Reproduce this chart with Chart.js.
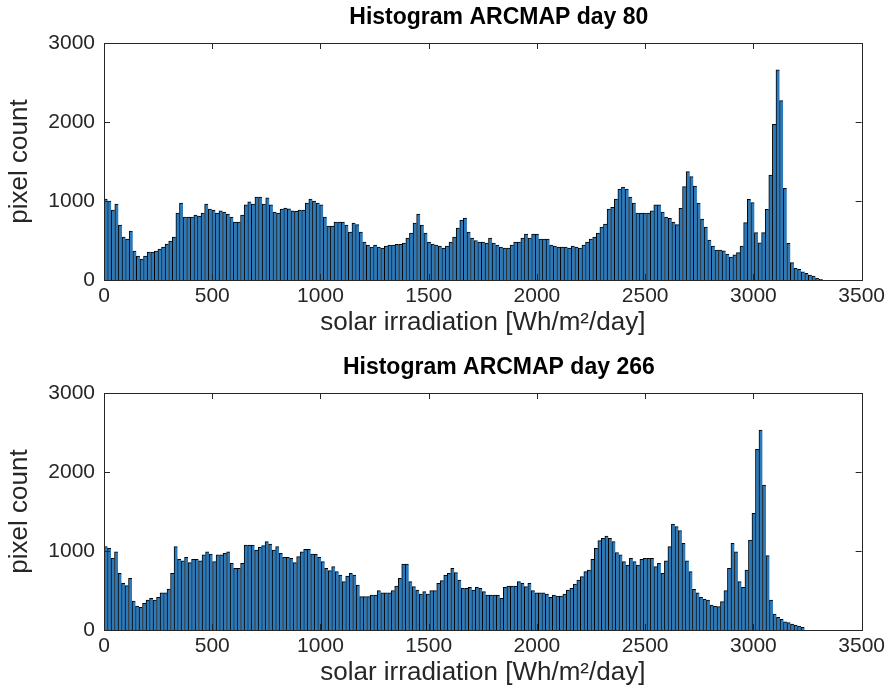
<!DOCTYPE html>
<html>
<head>
<meta charset="utf-8">
<script src="https://cdn.jsdelivr.net/npm/chart.js@4.4.1/dist/chart.umd.min.js"></script>
<style>
  body { margin: 0; background: #fff; }
  canvas { display: block; }
</style>
</head>
<body>
<canvas id="day80" width="889" height="350"></canvas>
<canvas id="day266" width="889" height="349"></canvas>
<script>
// histogram bins: 200 equal bins starting at 0 irradiation
const binCount = 200;
const day80BinWidth = 16.6;
const day266BinWidth = 16.18;

// pixel counts per bin, day 80
const day80Counts = [
  1025, 1000, 886, 962, 696, 544, 519, 620, 367, 304,
  266, 304, 354, 354, 367, 392, 418, 456, 494, 544,
  848, 975, 798, 798, 798, 823, 810, 848, 962, 899,
  886, 848, 874, 861, 835, 798, 734, 734, 823, 950,
  988, 962, 1051, 1051, 962, 1040, 950, 861, 848, 899,
  911, 900, 874, 870, 886, 886, 975, 1025, 1000, 975,
  950, 798, 684, 684, 734, 734, 734, 696, 608, 722,
  700, 608, 481, 443, 418, 443, 418, 405, 430, 443,
  443, 450, 450, 468, 532, 595, 722, 835, 696, 595,
  481, 455, 443, 430, 405, 430, 481, 544, 658, 760,
  785, 608, 532, 500, 481, 481, 468, 532, 468, 443,
  418, 405, 405, 443, 481, 481, 532, 582, 532, 582,
  582, 519, 519, 519, 443, 430, 418, 418, 418, 405,
  430, 418, 405, 443, 481, 519, 544, 595, 671, 709,
  899, 920, 1025, 1152, 1177, 1152, 1051, 975, 848, 848,
  848, 848, 874, 950, 950, 861, 798, 780, 734, 700,
  907, 1181, 1371, 1308, 1190, 975, 772, 671, 506, 430,
  380, 380, 370, 329, 291, 320, 346, 430, 726, 1021,
  979, 599, 472, 599, 894, 1329, 1970, 2659, 2270, 1161,
  465, 219, 148, 135, 105, 84, 63, 51, 21, 10
];

// pixel counts per bin, day 266
const day266Counts = [
  1055, 1034, 907, 991, 717, 591, 561, 654, 367, 304,
  287, 338, 380, 401, 380, 414, 472, 472, 519, 717,
  1055, 895, 877, 920, 852, 895, 895, 877, 950, 991,
  962, 865, 950, 950, 971, 991, 844, 781, 781, 844,
  1076, 1076, 1076, 1013, 1047, 1068, 1118, 1089, 1013, 1055,
  971, 920, 920, 907, 852, 928, 991, 1021, 1021, 962,
  962, 920, 865, 781, 751, 802, 738, 696, 612, 684,
  717, 696, 570, 422, 422, 422, 443, 443, 498, 472,
  472, 472, 498, 557, 654, 836, 836, 612, 549, 506,
  456, 485, 456, 498, 498, 591, 624, 696, 717, 781,
  726, 633, 528, 528, 540, 506, 540, 528, 485, 443,
  443, 443, 443, 401, 540, 557, 557, 557, 612, 591,
  549, 591, 498, 472, 472, 472, 456, 414, 443, 430,
  430, 456, 506, 528, 582, 633, 675, 738, 760, 895,
  1034, 1131, 1160, 1190, 1160, 1118, 979, 950, 865, 823,
  907, 865, 823, 895, 907, 907, 907, 802, 844, 717,
  877, 1055, 1342, 1308, 1260, 1097, 877, 738, 515, 472,
  414, 388, 380, 316, 300, 295, 359, 498, 781, 1097,
  991, 612, 540, 760, 1139, 1477, 2287, 2532, 1836, 941,
  380, 203, 160, 135, 105, 93, 76, 63, 51, 34
];

const xTicks = [0, 500, 1000, 1500, 2000, 2500, 3000, 3500];
const yTicks = [0, 1000, 2000, 3000];

const fontFamily = "'Liberation Sans', Arial, Helvetica, sans-serif";
const textColor = '#262626';

// closed box around the plot area with inward tick marks (matlab style),
// plus the axes title above the plot area
const axisBox = {
  id: 'axisBox',
  afterDatasetsDraw(chart, args, opts) {
    const { ctx, chartArea: a, scales: { x, y } } = chart;
    const tickLen = 6;
    ctx.save();
    ctx.strokeStyle = textColor;
    ctx.lineWidth = 1;
    ctx.beginPath();
    x.ticks.forEach(t => {
      const px = Math.round(x.getPixelForValue(t.value)) + 0.5;
      ctx.moveTo(px, a.bottom); ctx.lineTo(px, a.bottom - tickLen);
      ctx.moveTo(px, a.top); ctx.lineTo(px, a.top + tickLen);
    });
    y.ticks.forEach(t => {
      const py = Math.round(y.getPixelForValue(t.value)) + 0.5;
      ctx.moveTo(a.left, py); ctx.lineTo(a.left + tickLen, py);
      ctx.moveTo(a.right, py); ctx.lineTo(a.right - tickLen, py);
    });
    ctx.stroke();
    ctx.strokeRect(Math.round(a.left) + 0.5, Math.round(a.top) + 0.5,
      Math.round(a.width), Math.round(a.height));

    ctx.fillStyle = '#000';
    ctx.font = 'bold 23px ' + fontFamily;
    ctx.textAlign = 'center';
    ctx.textBaseline = 'middle';
    ctx.fillText(opts.text, (a.left + a.right) / 2 + 16, 18);
    ctx.restore();
  }
};

function histogramChart(id, title, binWidth, counts, axisHeight) {
  const points = [];
  for (let i = 0; i < binCount; i++) {
    points.push({ x: (i + 0.5) * binWidth, y: counts[i] });
  }
  return new Chart(document.getElementById(id), {
    type: 'bar',
    data: {
      datasets: [{
        data: points,
        backgroundColor: '#2c7aba',
        borderColor: '#000',
        borderWidth: { top: 1, left: 1, right: 0, bottom: 0 },
        borderSkipped: false,
        barPercentage: 1,
        categoryPercentage: 1
      }]
    },
    options: {
      responsive: false,
      animation: false,
      layout: { padding: { left: 0, right: 27, top: 43, bottom: 0 } },
      plugins: {
        legend: { display: false },
        tooltip: { enabled: false },
        title: { display: false },
        axisBox: { text: title }
      },
      scales: {
        x: {
          type: 'linear',
          offset: false,
          min: 0,
          max: 3500,
          afterBuildTicks: s => { s.ticks = xTicks.map(v => ({ value: v })); },
          afterFit: s => { s.height = axisHeight; },
          grid: { display: false, drawTicks: false, offset: false },
          border: { display: false },
          ticks: {
            color: textColor,
            font: { family: fontFamily, size: 21 },
            padding: 4,
            maxRotation: 0,
            callback: v => String(v)
          },
          title: {
            display: true,
            text: 'solar irradiation [Wh/m²/day]',
            color: textColor,
            font: { family: fontFamily, size: 26 },
            padding: { top: 0, bottom: axisHeight - 58 }
          }
        },
        y: {
          min: 0,
          max: 3000,
          afterBuildTicks: s => { s.ticks = yTicks.map(v => ({ value: v })); },
          afterFit: s => { s.width = 104; },
          grid: { display: false, drawTicks: false },
          border: { display: false },
          ticks: {
            color: textColor,
            font: { family: fontFamily, size: 21 },
            padding: 9,
            callback: v => String(v)
          },
          title: {
            display: true,
            text: 'pixel count',
            color: textColor,
            font: { family: fontFamily, size: 26 },
            padding: { top: 4, bottom: 0 }
          }
        }
      }
    },
    plugins: [axisBox]
  });
}

histogramChart('day80', 'Histogram ARCMAP day 80', day80BinWidth, day80Counts, 70);
histogramChart('day266', 'Histogram ARCMAP day 266', day266BinWidth, day266Counts, 69);
</script>
</body>
</html>
